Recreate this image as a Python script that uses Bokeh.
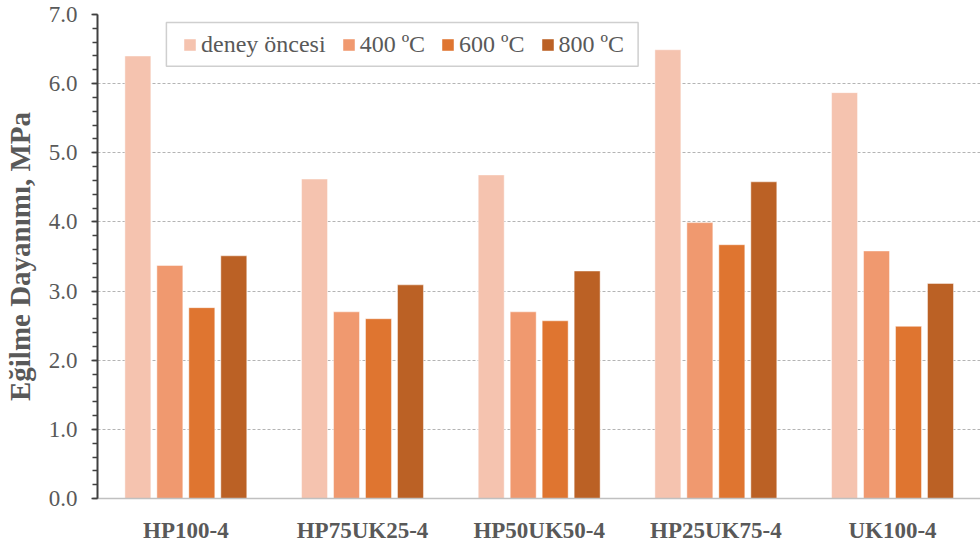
from bokeh.plotting import figure
from bokeh.models import (ColumnDataSource, Range1d, FixedTicker, SingleIntervalTicker,
                          Legend, LegendItem, BoxAnnotation)
from bokeh.transform import dodge
from bokeh.embed import file_html
from bokeh.resources import INLINE

# Flexural strength (MPa) of each mix, before testing and after heating
categories = ["HP100-4", "HP75UK25-4", "HP50UK50-4", "HP25UK75-4", "UK100-4"]
series_names = ["deney öncesi", "400 ºC", "600 ºC", "800 ºC"]
deney_oncesi = [6.40, 4.62, 4.68, 6.49, 5.87]
c400 = [3.37, 2.70, 2.70, 3.99, 3.58]
c600 = [2.76, 2.60, 2.57, 3.67, 2.49]
c800 = [3.51, 3.09, 3.29, 4.58, 3.11]
y_ticks = [0, 1, 2, 3, 4, 5, 6, 7]

colors = ["#F5C3AF", "#F0996F", "#DF7530", "#BB6125"]
TEXT = "#595959"
SERIF = "Liberation Serif"

source = ColumnDataSource(dict(
    x=[i + 0.5 for i in range(len(categories))],
    s0=deney_oncesi, s1=c400, s2=c600, s3=c800,
))

p = figure(width=980, height=545, output_backend="svg", toolbar_location=None,
           x_range=Range1d(0, 4.998), y_range=Range1d(0, 7),
           min_border_left=97, min_border_right=0, min_border_top=14, min_border_bottom=47)
p.outline_line_color = None
p.background_fill_color = "white"

step = 0.181
bar_w = 0.147
offsets = [-1.5 * step, -0.5 * step, 0.5 * step, 1.5 * step]
renderers = []
for k, (col, off) in enumerate(zip(colors, offsets)):
    r = p.vbar(x=dodge("x", off), top=f"s{k}", width=bar_w, source=source,
               fill_color=col, line_color="white", line_alpha=0.45, line_width=1)
    renderers.append(r)

# x axis: category names under each group
p.xaxis.ticker = FixedTicker(ticks=[i + 0.5 for i in range(len(categories))])
p.xaxis.major_label_overrides = {i + 0.5: c for i, c in enumerate(categories)}
p.xaxis.major_tick_line_color = None
p.xaxis.minor_tick_line_color = None
p.xaxis.axis_line_color = "#c0c0c0"
p.xaxis.axis_line_width = 1.5
p.xaxis.major_label_text_font = SERIF
p.xaxis.major_label_text_font_style = "bold"
p.xaxis.major_label_text_font_size = "23px"
p.xaxis.major_label_text_color = TEXT
p.xaxis.major_label_standoff = 13

# y axis
p.yaxis.ticker = SingleIntervalTicker(interval=1, num_minor_ticks=5)
p.yaxis.formatter.use_scientific = False
p.yaxis.major_label_overrides = {t: f"{t:.1f}" for t in y_ticks}
p.yaxis.axis_line_color = "#404040"
p.yaxis.axis_line_width = 2
p.yaxis.major_tick_line_color = "#404040"
p.yaxis.major_tick_line_width = 1.5
p.yaxis.major_tick_out = 6
p.yaxis.major_tick_in = 0
p.yaxis.minor_tick_line_color = "#404040"
p.yaxis.minor_tick_line_width = 1.5
p.yaxis.minor_tick_out = 5
p.yaxis.minor_tick_in = 0
p.yaxis.major_label_text_font = SERIF
p.yaxis.major_label_text_font_size = "23px"
p.yaxis.major_label_text_color = TEXT
p.yaxis.major_label_standoff = 14
p.yaxis.axis_label = "Eğilme Dayanımı, MPa"
p.yaxis.axis_label_text_font = SERIF
p.yaxis.axis_label_text_font_style = "bold"
p.yaxis.axis_label_text_font_size = "29px"
p.yaxis.axis_label_text_color = TEXT
p.yaxis.axis_label_standoff = 10

# grid
p.xgrid.grid_line_color = None
p.ygrid.ticker = FixedTicker(ticks=[1, 2, 3, 4, 5, 6])
p.ygrid.grid_line_color = "#b4b4b4"
p.ygrid.grid_line_dash = "3 2"
p.ygrid.grid_line_width = 1

# legend frame
frame = BoxAnnotation(left=0.39, right=3.06, top=6.885, bottom=6.25,
                      fill_color="white", fill_alpha=1,
                      line_color="#606060", line_width=1.5, level="annotation")
p.add_layout(frame)

legend = Legend(items=[LegendItem(label=n, renderers=[r]) for n, r in zip(series_names, renderers)],
                orientation="horizontal", location=(85, 440),
                glyph_width=15, glyph_height=15, label_standoff=4, spacing=15,
                padding=8, border_line_color=None, background_fill_alpha=0,
                label_text_font="'Liberation Serif', serif", label_text_font_size="24px",
                label_text_color=TEXT)
p.add_layout(legend, "center")

open("out.html", "w").write(file_html(p, INLINE))
